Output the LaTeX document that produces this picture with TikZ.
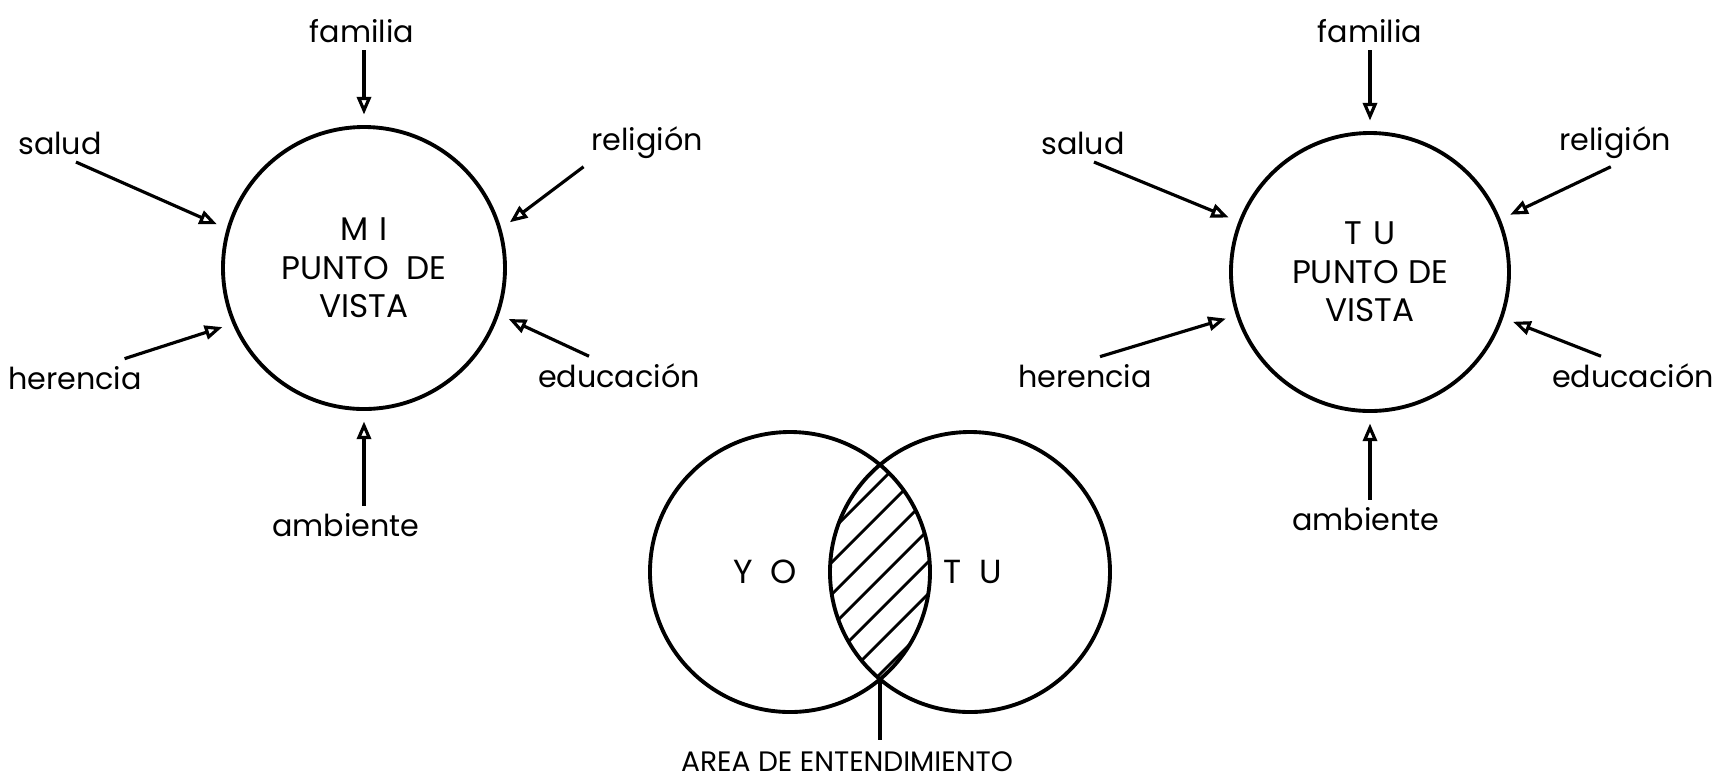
\documentclass[tikz,border=0pt]{standalone}
\usepackage{fontspec}
\setmainfont{Poppins}
\usetikzlibrary{positioning, arrows.meta}

\begin{document}
\begin{tikzpicture}[>={Triangle[open, length=5pt, width=4pt]},
    vista/.style={draw, circle, line width=1.1pt, minimum size=2.82cm,
                  inner sep=0pt, align=center,
                  font=\fontsize{9.3}{11}\selectfont},
    lbl/.style={font=\fontsize{8.6}{11}\selectfont, inner sep=2pt},
    flecha/.style={->, line width=0.9pt, shorten >=3pt},
    conj/.style={draw, circle, line width=1.1pt, minimum size=2.8cm},
    grande/.style={font=\fontsize{9.5}{11}\selectfont},
    raya/.style={line width=0.8pt}]
  \useasboundingbox (0,0) rectangle (17.19,-7.81);
  \fill[white] (0,0) rectangle (17.19,-7.81);

  % mi punto de vista
  \node[vista] (mi) at (3.64,-2.68) {M\,\,I\\PUNTO\ \ DE\\VISTA};
  \node[lbl] (famL) at (3.62,-0.31) {familia};
  \node[lbl] (salL) at (0.60,-1.43) {salud};
  \node[lbl] (relL) at (6.47,-1.43) {religión};
  \node[lbl] (herL) at (0.75,-3.78) {herencia};
  \node[lbl] (eduL) at (6.19,-3.76) {educación};
  \node[lbl] (ambL) at (3.46,-5.25) {ambiente};
  \draw[flecha] (famL.south -| mi.north) -- (mi.north);
  \draw[flecha] (salL.-50) -- (mi.164);
  \draw[flecha] (relL.south west) -- (mi.16);
  \draw[flecha] ([xshift=-0.25cm]herL.north east) -- (mi.203);
  \draw[flecha] ([xshift=-0.3cm]eduL.north) -- (mi.341);
  \draw[flecha] (ambL.north -| mi.south) -- (mi.south);

  % tu punto de vista
  \node[vista, minimum size=2.78cm] (tu) at (13.70,-2.72) {T\,\,U\\PUNTO DE\\VISTA};
  \node[lbl] (famR) at (13.70,-0.31) {familia};
  \node[lbl] (salR) at (10.83,-1.43) {salud};
  \node[lbl] (relR) at (16.15,-1.43) {religión};
  \node[lbl] (herR) at (10.85,-3.76) {herencia};
  \node[lbl] (eduR) at (16.33,-3.76) {educación};
  \node[lbl] (ambR) at (13.66,-5.19) {ambiente};
  \draw[flecha] (famR.south -| tu.north) -- (tu.north);
  \draw[flecha] (salR.-60) -- (tu.159);
  \draw[flecha] (relR.-100) -- (tu.22);
  \draw[flecha] ([xshift=0.15cm]herR.north) -- (tu.198);
  \draw[flecha] ([xshift=-0.32cm]eduR.north) -- (tu.341);
  \draw[flecha] (ambR.north -| tu.south) -- (tu.south);

  % yo y tu
  \node[conj] (yo) at (7.90,-5.72) {};
  \node[conj] (vos) at (9.70,-5.72) {};
  \node[grande] (yoT) at (7.65,-5.72) {Y\ \ O};
  \node[grande] (vosT) at (9.73,-5.72) {T\ \ U};
  \begin{scope}
    \clip (7.90,-5.72) circle (1.40);
    \clip (9.70,-5.72) circle (1.40);
    \foreach \c in {13.3,13.62,...,16.0}
      \draw[raya] ({\c-7},-7) -- ({\c-4},-4);
  \end{scope}
  \coordinate (lens) at (8.80,-6.79);
  \node[font=\fontsize{8}{9}\selectfont] (ent) at (8.47,-7.62)
        {AREA DE ENTENDIMIENTO};
  \draw[line width=0.9pt] (lens) -- (ent.north -| lens);
\end{tikzpicture}
\end{document}
